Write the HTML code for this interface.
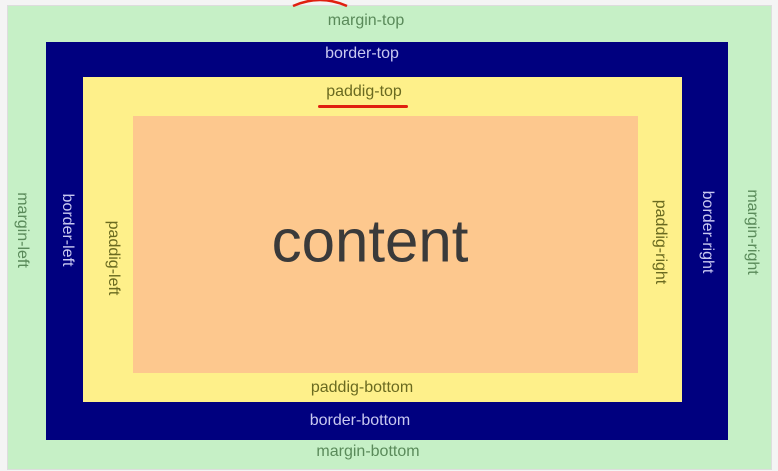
<!DOCTYPE html>
<html><head><style>
body{margin:0;width:778px;height:471px;background:#f4f4f4;position:relative;overflow:hidden;font-family:"Liberation Sans",sans-serif}
.b{position:absolute}
.t{position:absolute;font-size:16px;white-space:nowrap;transform:translate(-50%,-50%)}
.v{transform:translate(-50%,-50%) rotate(90deg)}
</style></head><body>
<div class="b" style="left:7px;top:5px;width:763px;height:463px;background:#c6f0c6;border:1px solid #ddd"></div>
<div class="b" style="left:46px;top:42px;width:682px;height:398px;background:#00007f"></div>
<div class="b" style="left:83px;top:77px;width:599px;height:325px;background:#fef08a"></div>
<div class="b" style="left:133px;top:116px;width:505px;height:257px;background:#fdc88e"></div>
<div class="t" style="left:366px;top:21px;color:#5a8a5a">margin-top</div>
<div class="t" style="left:362px;top:54px;color:#c8c8f0">border-top</div>
<div class="t" style="left:364px;top:92px;color:#6a6a20">paddig-top</div>
<div class="b" style="left:318px;top:105px;width:90px;height:3px;background:#e02010;border-radius:2px"></div>
<svg class="b" style="left:285px;top:0;position:absolute" width="70" height="10"><path d="M8 6 Q35 -6 62 6" stroke="#e02010" stroke-width="2.5" fill="none"/></svg>
<div class="t" style="left:370px;top:241px;font-size:60px;color:#3a3a3a">content</div>
<div class="t" style="left:362px;top:388px;color:#6a6a20">paddig-bottom</div>
<div class="t" style="left:360px;top:421px;color:#c8c8f0">border-bottom</div>
<div class="t" style="left:368px;top:452px;color:#5a8a5a">margin-bottom</div>
<div class="t v" style="left:22px;top:230px;color:#5a8a5a">margin-left</div>
<div class="t v" style="left:67px;top:230px;color:#c8c8f0">border-left</div>
<div class="t v" style="left:113px;top:258px;color:#6a6a20">paddig-left</div>
<div class="t v" style="left:660px;top:242px;color:#6a6a20">paddig-right</div>
<div class="t v" style="left:707px;top:232px;color:#c8c8f0">border-right</div>
<div class="t v" style="left:752px;top:232px;color:#5a8a5a">margin-right</div>
</body></html>
